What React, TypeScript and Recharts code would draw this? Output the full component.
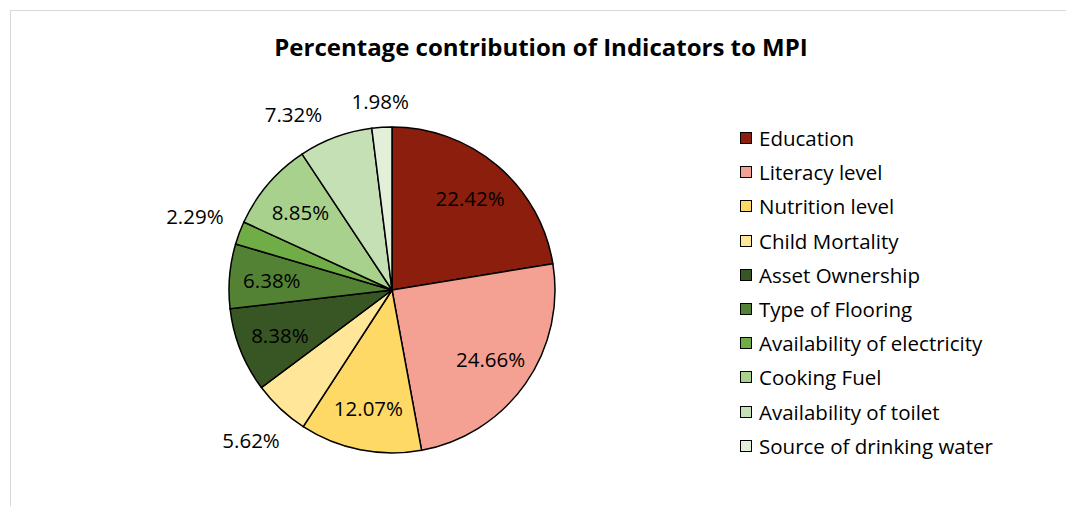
import { PieChart, Pie, Cell, Legend } from "recharts";

const indicators = [
  "Education",
  "Literacy level",
  "Nutrition level",
  "Child Mortality",
  "Asset Ownership",
  "Type of Flooring",
  "Availability of electricity",
  "Cooking Fuel",
  "Availability of toilet",
  "Source of drinking water",
];
const shares = [22.42, 24.66, 12.07, 5.62, 8.38, 6.38, 2.29, 8.85, 7.32, 1.98];
const colors = [
  "#8b1e0c",
  "#f4a193",
  "#ffd966",
  "#ffe699",
  "#375623",
  "#548235",
  "#70ad47",
  "#a9d18e",
  "#c5e0b4",
  "#e2f0d9",
];
// slices whose label sits outside the rim
const outsideLabels = [
  "Child Mortality",
  "Availability of electricity",
  "Availability of toilet",
  "Source of drinking water",
];

const data = indicators.map((name, i) => ({ name, value: shares[i] }));

const FONT = "'Open Sans', 'Noto Sans', sans-serif";
const RADIAN = Math.PI / 180;

function renderLabel(props: any) {
  const { cx, cy, midAngle, outerRadius, value, name } = props;
  const outside = outsideLabels.includes(name);
  let angle = midAngle;
  // toilet label gets pushed away from its small neighbour, like Excel's best fit
  if (name === "Availability of toilet") angle += 9;
  const cos = Math.cos(-angle * RADIAN);
  const sin = Math.sin(-angle * RADIAN);
  let r = outerRadius * 0.74;
  if (outside) {
    // keep the label box clear of the rim
    r = outerRadius + 14 + 32 * Math.abs(cos) + 10 * Math.abs(sin);
  }
  return (
    <text
      x={cx + r * cos}
      y={cy + r * sin}
      textAnchor="middle"
      dominantBaseline="central"
      fill="#000"
      fontSize={20.5}
      fontFamily={FONT}
    >
      {`${value.toFixed(2)}%`}
    </text>
  );
}

function LegendBox() {
  return (
    <div style={{ fontFamily: FONT, fontSize: 20.5, color: "#000" }}>
      {indicators.map((name, i) => (
        <div key={name} style={{ display: "flex", alignItems: "center", height: 34.2 }}>
          <span
            style={{
              width: 10,
              height: 10,
              background: colors[i],
              border: "1.5px solid #000",
              marginRight: 7,
            }}
          />
          <span>{name}</span>
        </div>
      ))}
    </div>
  );
}

export default function App() {
  return (
    <div style={{ position: "absolute", left: 0, top: 0, width: 1066, height: 506, background: "#fff", overflow: "hidden" }}>
      <div
        style={{
          position: "absolute",
          left: 10,
          top: 10,
          width: 1070,
          height: 520,
          border: "1px solid #d9d9d9",
          boxSizing: "border-box",
        }}
      />
      <div
        style={{
          position: "absolute",
          left: 0,
          top: 30,
          width: 1082,
          textAlign: "center",
          fontFamily: FONT,
          fontWeight: 700,
          fontSize: 24,
          color: "#000",
        }}
      >
        Percentage contribution of Indicators to MPI
      </div>
      <div style={{ position: "absolute", left: 0, top: 0 }}>
        <PieChart width={1066} height={506}>
          <Pie
            data={data}
            dataKey="value"
            nameKey="name"
            cx={387}
            cy={285}
            outerRadius={163}
            startAngle={90}
            endAngle={-270}
            stroke="#000"
            strokeWidth={1.5}
            label={renderLabel}
            labelLine={false}
            isAnimationActive={false}
          >
            {data.map((d, i) => (
              <Cell key={d.name} fill={colors[i]} />
            ))}
          </Pie>
          <Legend
            content={() => <LegendBox />}
            wrapperStyle={{ position: "absolute", left: 740, top: 121, width: 320 }}
          />
        </PieChart>
      </div>
    </div>
  );
}
